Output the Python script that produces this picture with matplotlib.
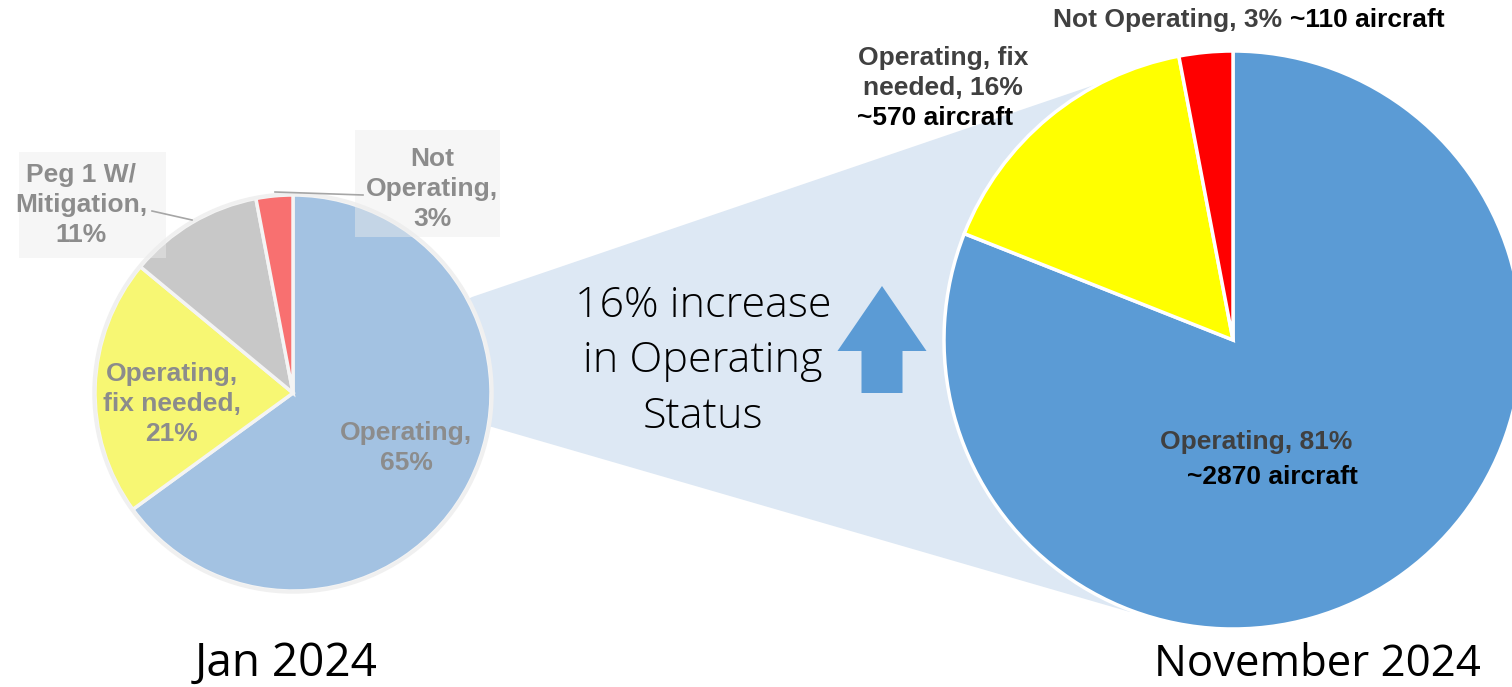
import matplotlib.pyplot as plt
from matplotlib.patches import Polygon, Rectangle, FancyArrow

# Data
jan_names = ['Operating,', 'Operating,\nfix needed,', 'Peg 1 W/\nMitigation,', 'Not\nOperating,']
jan_pct = [65, 21, 11, 3]
jan_colors = ['#a3c2e2', '#f7f773', '#c8c8c8', '#f87070']

nov_names = ['Operating', 'Operating, fix\nneeded', 'Not Operating']
nov_pct = [81, 16, 3]
nov_aircraft = [2870, 570, 110]
nov_colors = ['#5b9bd5', '#ffff00', '#ff0000']

titles = ['Jan 2024', 'November 2024']
middle_text = ['16% increase', 'in Operating', 'Status']

W, H = 1512, 687


def Y(y):
    # pixel row (from top) -> data y
    return H - y


fig = plt.figure(figsize=(W / 100, H / 100), dpi=100)
ax = fig.add_axes([0, 0, 1, 1])

# zoom band between the two pies
band = Polygon([(293, Y(393)), (472, Y(297)), (1150, Y(66)),
                (1233, Y(340)), (1130, Y(612)), (492, Y(427))],
               closed=True, facecolor='#dde8f4', edgecolor='none', zorder=0)
ax.add_patch(band)

# Jan pie
ax.pie(jan_pct, colors=jan_colors, startangle=90, counterclock=False,
       center=(293, Y(393)), radius=198,
       wedgeprops=dict(edgecolor='#f4f4f4', linewidth=2.5))
circ = plt.Circle((293, Y(393)), 199, facecolor='none', edgecolor='#f0f0f0',
                  linewidth=2.5, zorder=3)
ax.add_patch(circ)

# Nov pie
ax.pie(nov_pct, colors=nov_colors, startangle=90, counterclock=False,
       center=(1233, Y(340)), radius=289,
       wedgeprops=dict(edgecolor='white', linewidth=2.5))

# label boxes on the Jan pie (outside labels)
ax.add_patch(Rectangle((19, Y(258)), 147, 106, facecolor='#ededed', alpha=0.45,
                       edgecolor='none', zorder=4))
ax.add_patch(Rectangle((355, Y(237)), 145, 107, facecolor='#ededed', alpha=0.45,
                       edgecolor='none', zorder=4))
ax.plot([152, 192], [Y(211), Y(220)], color='#a6a6a6', lw=1.2, zorder=5)
ax.plot([275, 363], [Y(192), Y(195)], color='#a6a6a6', lw=1.2, zorder=5)

bold = dict(family=['Liberation Sans', 'DejaVu Sans'], weight='bold', fontsize=19)
jan_pos = [(406, 448), (172, 404), (81, 205), (432, 189)]
for name, p, (x, y) in zip(jan_names, jan_pct, jan_pos):
    ax.text(x, Y(y), f'{name}\n{p}%', ha='center', va='center', color='#8c8c8c',
            linespacing=1.33, zorder=6, **bold)

# Nov labels
ax.text(1256, Y(442), f'{nov_names[0]}, {nov_pct[0]}%', ha='center', va='center',
        color='#404040', zorder=6, **bold)
ax.text(1272, Y(477), f'~{nov_aircraft[0]} aircraft', ha='center', va='center',
        color='black', zorder=6, **bold)
ax.text(943, Y(73), f'{nov_names[1]}, {nov_pct[1]}%', ha='center', va='center',
        color='#404040', linespacing=1.33, zorder=6, **bold)
ax.text(857, Y(118), f'~{nov_aircraft[1]} aircraft', ha='left', va='center',
        color='black', zorder=6, **bold)
ax.text(1053, Y(20), f'{nov_names[2]}, {nov_pct[2]}%', ha='left', va='center',
        color='#404040', zorder=6, **bold)
ax.text(1290, Y(20), f'~{nov_aircraft[2]} aircraft', ha='left', va='center',
        color='black', zorder=6, **bold)

# middle text and arrow
light = dict(family=['Open Sans', 'DejaVu Sans'], weight='light')
for line, yb in zip(middle_text, [317, 372, 428]):
    ax.text(703, Y(yb), line, ha='center', va='baseline', fontsize=31,
            color='black', **light)
ax.add_patch(FancyArrow(882, Y(393), 0, 107, width=41, head_width=89,
                        head_length=65, length_includes_head=True,
                        facecolor='#5b9bd5', edgecolor='none', zorder=3))

# titles
for t, x, fs in zip(titles, [286, 1317], [33, 31.5]):
    ax.text(x, Y(676), t, ha='center', va='baseline', fontsize=fs,
            color='black', family=['Open Sans', 'DejaVu Sans'])

ax.set_xlim(0, W)
ax.set_ylim(0, H)
ax.set_aspect('auto')
ax.axis('off')

fig.savefig('out.png', dpi=100)
